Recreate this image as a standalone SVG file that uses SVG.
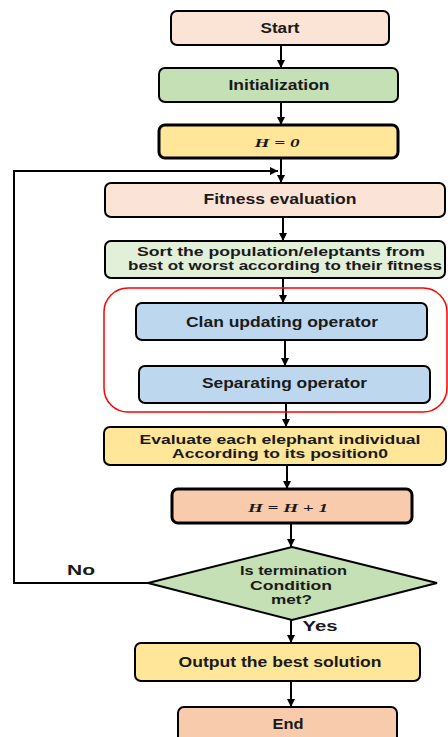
<svg xmlns="http://www.w3.org/2000/svg" width="448" height="737" viewBox="0 0 448 737">
<style>
.b{stroke:#000;stroke-width:2}
.bt{stroke:#000;stroke-width:3}
.t{font-family:"Liberation Sans",Arial,sans-serif;font-weight:bold;font-size:14px;fill:#1a1a1a;text-anchor:middle}
.s{font-size:12.5px}
.m{font-family:"Liberation Serif","Times New Roman",serif;font-weight:bold;font-style:italic;font-size:13px;fill:#1a1a1a;text-anchor:middle}
.c{stroke:#000;stroke-width:2;fill:none}
</style>
<defs>
<marker id="ah" markerUnits="userSpaceOnUse" markerWidth="10" markerHeight="10" refX="8" refY="5" orient="auto">
<path d="M0,1 L8,5 L0,9 Z" fill="#000"/>
</marker>
</defs>
<rect width="448" height="737" fill="#fff"/>
<g id="connectors">
<line class="c" x1="281" y1="45" x2="281" y2="68" marker-end="url(#ah)"/>
<line class="c" x1="281" y1="102" x2="281" y2="125" marker-end="url(#ah)"/>
<line class="c" x1="281" y1="158" x2="281" y2="183" marker-end="url(#ah)"/>
<line class="c" x1="283" y1="217" x2="283" y2="241" marker-end="url(#ah)"/>
<line class="c" x1="283" y1="278" x2="283" y2="303" marker-end="url(#ah)"/>
<line class="c" x1="285" y1="340" x2="285" y2="366" marker-end="url(#ah)"/>
<line class="c" x1="286" y1="403" x2="286" y2="427" marker-end="url(#ah)"/>
<line class="c" x1="287" y1="465" x2="287" y2="489" marker-end="url(#ah)"/>
<line class="c" x1="291" y1="523" x2="291" y2="547" marker-end="url(#ah)"/>
<line class="c" x1="291" y1="620" x2="291" y2="643" marker-end="url(#ah)"/>
<line class="c" x1="291" y1="681" x2="291" y2="707" marker-end="url(#ah)"/>
<polyline class="c" points="148,583 14,583 14,171 278,171" marker-end="url(#ah)"/>
<text class="t" x="81" y="575" textLength="28" lengthAdjust="spacingAndGlyphs" style="font-size:15px">No</text>
<text class="t" x="320" y="631" textLength="35" lengthAdjust="spacingAndGlyphs" style="font-size:15px">Yes</text>
</g>
<g id="group-box">
<rect x="104" y="288" width="343" height="124" rx="24" fill="none" stroke="#ff0000" stroke-width="1.5"/>
</g>
<g id="start">
<rect class="b" x="171" y="11" width="218" height="34" rx="6" fill="#fbe3d6"/>
<text class="t" x="280" y="33" textLength="39" lengthAdjust="spacingAndGlyphs">Start</text>
</g>
<g id="init">
<rect class="b" x="159" y="68" width="239" height="34" rx="6" fill="#c5e0b4"/>
<text class="t" x="279" y="90" textLength="101" lengthAdjust="spacingAndGlyphs">Initialization</text>
</g>
<g id="h0">
<rect class="bt" x="159" y="125" width="239" height="33" rx="6" fill="#ffe699"/>
<text class="m" x="277" y="147" textLength="45" lengthAdjust="spacingAndGlyphs">H = 0</text>
</g>
<g id="fitness">
<rect class="b" x="105" y="183" width="340" height="34" rx="6" fill="#fbe3d6"/>
<text class="t" x="280" y="204" textLength="153" lengthAdjust="spacingAndGlyphs">Fitness evaluation</text>
</g>
<g id="sort">
<rect class="b" x="105" y="241" width="340" height="37" rx="6" fill="#e2f0d9"/>
<text class="t s" x="281" y="256" textLength="288" lengthAdjust="spacingAndGlyphs">Sort the population/eleptants from</text>
<text class="t s" x="285" y="270" textLength="314" lengthAdjust="spacingAndGlyphs">best ot worst according to their fitness</text>
</g>
<g id="clan">
<rect class="b" x="136" y="303" width="291" height="37" rx="6" fill="#bdd7ee"/>
<text class="t" x="282" y="327" textLength="192" lengthAdjust="spacingAndGlyphs">Clan updating operator</text>
</g>
<g id="separating">
<rect class="b" x="139" y="366" width="291" height="37" rx="6" fill="#bdd7ee"/>
<text class="t" x="284.5" y="388" textLength="165" lengthAdjust="spacingAndGlyphs">Separating operator</text>
</g>
<g id="evaluate">
<rect class="b" x="104" y="427" width="342" height="38" rx="6" fill="#ffe699"/>
<text class="t s" x="280" y="444" textLength="281" lengthAdjust="spacingAndGlyphs">Evaluate each elephant individual</text>
<text class="t s" x="280" y="458" textLength="216" lengthAdjust="spacingAndGlyphs">According to its position0</text>
</g>
<g id="h-inc">
<rect class="bt" x="172" y="489" width="240" height="34" rx="6" fill="#f8cbad"/>
<text class="m" x="288" y="512" textLength="80" lengthAdjust="spacingAndGlyphs">H = H + 1</text>
</g>
<g id="decision">
<polygon points="292,547 437,583 292,620 148,583" fill="#c5e0b4" stroke="#000" stroke-width="2"/>
<text class="t s" x="293.5" y="575" textLength="107" lengthAdjust="spacingAndGlyphs">Is termination</text>
<text class="t s" x="291" y="590" textLength="82" lengthAdjust="spacingAndGlyphs">Condition</text>
<text class="t s" x="291.5" y="604" textLength="41" lengthAdjust="spacingAndGlyphs">met?</text>
</g>
<g id="output">
<rect class="b" x="135" y="643" width="285" height="38" rx="6" fill="#ffe699"/>
<text class="t" x="280" y="667" textLength="203" lengthAdjust="spacingAndGlyphs">Output the best solution</text>
</g>
<g id="end">
<rect class="b" x="178" y="707" width="219" height="40" rx="6" fill="#f8cbad"/>
<text class="t" x="288" y="729" textLength="31" lengthAdjust="spacingAndGlyphs">End</text>
</g>
</svg>
